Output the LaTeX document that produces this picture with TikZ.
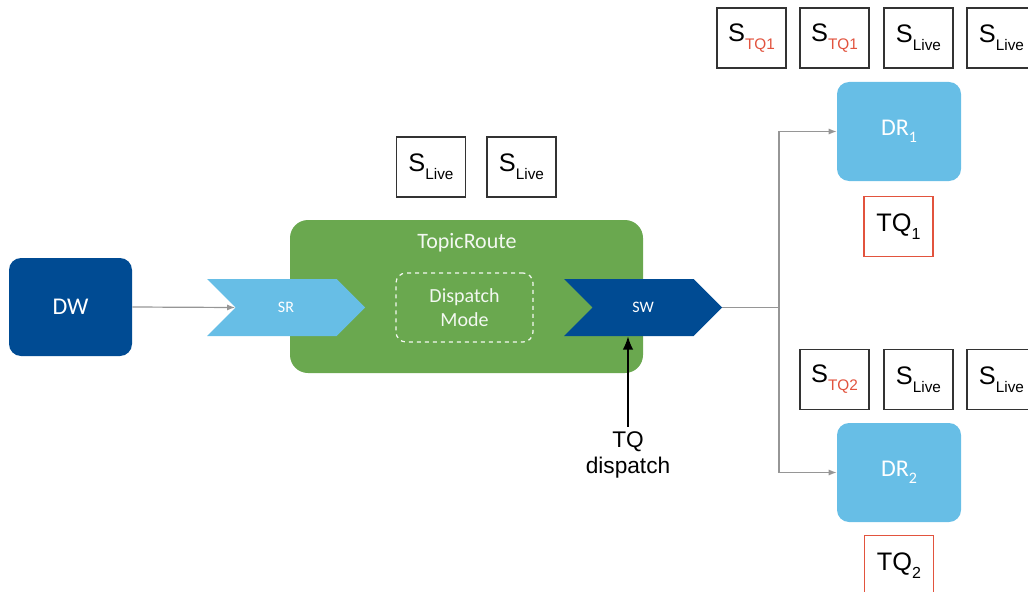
\documentclass[tikz,border=0pt]{standalone}
\usepackage{fontspec}
\setmainfont{Liberation Sans}
\newfontfamily\calfont{Carlito}
\usetikzlibrary{arrows.meta,shapes.symbols}

\definecolor{dwblue}{RGB}{0,75,147}
\definecolor{drblue}{RGB}{103,190,230}
\definecolor{routegreen}{RGB}{106,168,79}
\definecolor{tqred}{RGB}{226,83,62}
\definecolor{linegray}{RGB}{150,150,150}

\newcommand{\slive}{S\raisebox{-6pt}{\fontsize{11.5}{13}\selectfont Live}}
\newcommand{\stq}[1]{S\raisebox{-6pt}{\fontsize{11.5}{13}\selectfont\color{tqred}TQ#1}}
\newcommand{\tqsub}[1]{TQ\raisebox{-6pt}{\fontsize{12}{13}\selectfont #1}}

\begin{document}
\begin{tikzpicture}[x=0.75pt,y=-0.75pt,
  sbox/.style={draw=black!80, line width=0.9pt, fill=white, minimum width=51.75pt, minimum height=45pt, inner sep=0pt, font=\fontsize{19}{22}\selectfont},
  qbox/.style={sbox, draw=tqred},
  dwbox/.style={fill=dwblue, rounded corners=9pt, minimum width=92.25pt, minimum height=73.5pt, text=white, font=\calfont\fontsize{18}{21}\selectfont},
  drbox/.style={dwbox, fill=drblue, minimum width=93pt, minimum height=74.25pt},
  chevron/.style={signal, signal to=east, signal from=west, signal pointer angle=90, minimum width=118.5pt, minimum height=42.75pt, inner sep=0pt, text=white, font=\calfont\fontsize{12}{14}\selectfont},
  flow/.style={draw=linegray, line width=0.9pt, -{Latex[length=6pt,width=4.5pt]}},
]
\clip (0,0) rectangle (1028,592);

% sender side
\node[dwbox] (dw) at (70.5,307) {DW};
\node[fill=routegreen, rounded corners=13.5pt, minimum width=264.75pt, minimum height=114.75pt] (route) at (466.5,296.5) {};
\node[text=white!92!routegreen, font=\calfont\fontsize{16.5}{19}\selectfont] (routelbl) at (467,243) {TopicRoute};
\node[draw=white!92!routegreen, dashed, line width=0.9pt, rounded corners=7.5pt, minimum width=102.75pt, minimum height=51.75pt, align=center, text=white!92!routegreen, font=\calfont\fontsize{15}{17.5}\selectfont] (mode) at (464.5,307.5) {Dispatch\\Mode};
\node[chevron, fill=drblue] (sr) at (286,307.5) {SR};
\node[chevron, fill=dwblue] (sw) at (643,307.5) {SW};

\node[sbox] (s1) at (431,167) {\slive};
\node[sbox] (s2) at (521.5,167) {\slive};

\node[align=center, font=\fontsize{17}{20}\selectfont] (tq) at (628,455) {TQ\\dispatch};

% receivers
\node[drbox] (dr1) at (899,131.5) {DR\raisebox{-5pt}{\fontsize{12}{13}\selectfont 1}};
\node[drbox] (dr2) at (899,472.5) {DR\raisebox{-5pt}{\fontsize{12}{13}\selectfont 2}};
\node[qbox] (tq1) at (898.5,226.5) {\tqsub{1}};
\node[qbox] (tq2) at (899,565.5) {\tqsub{2}};

\node[sbox] (a1) at (751.5,38) {\stq{1}};
\node[sbox] (a2) at (834.5,38) {\stq{1}};
\node[sbox] (a3) at (918.5,38) {\slive};
\node[sbox] (a4) at (1001.5,38) {\slive};

\node[sbox] (b1) at (834.5,379.5) {\stq{2}};
\node[sbox] (b2) at (918.5,379.5) {\slive};
\node[sbox] (b3) at (1001.5,379.5) {\slive};

% connectors
\coordinate (split) at (779,307.5);
\draw[flow] (dw.east) -- (sr.west);
\draw[draw=linegray, line width=0.9pt] (sw.east) -- (split);
\draw[flow] (split) |- (dr1.west);
\draw[flow] (split) |- (dr2.west);
\draw[line width=1.5pt, -{Latex[length=10pt,width=8pt]}] (tq.north) -- (tq.north |- sw.south);
\end{tikzpicture}
\end{document}
